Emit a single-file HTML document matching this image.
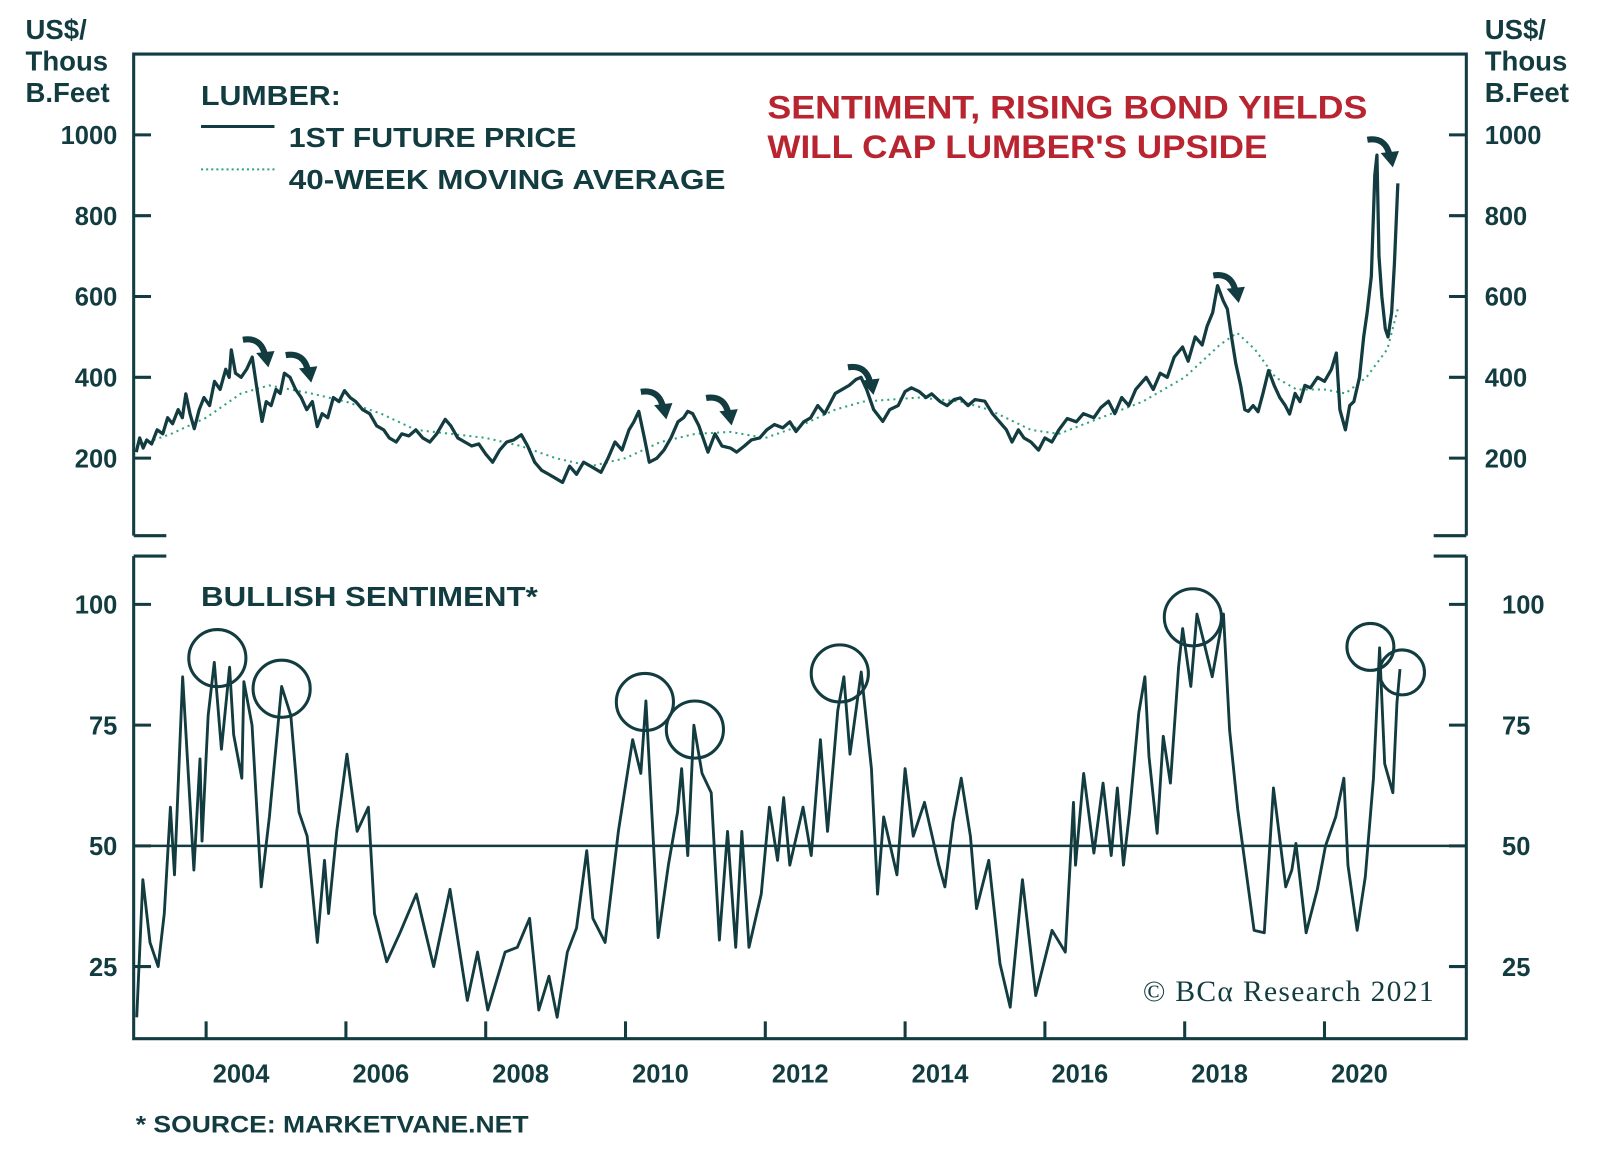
<!DOCTYPE html>
<html><head><meta charset="utf-8"><style>
html,body{margin:0;padding:0;background:#fff;}
svg{display:block;}
text{font-family:"Liberation Sans",sans-serif;font-weight:bold;fill:#123c40;}
</style></head><body>
<svg id="chart" width="1600" height="1154" viewBox="0 0 1568 1131" preserveAspectRatio="none" xmlns="http://www.w3.org/2000/svg">
<g id="frame" stroke="#123c40" stroke-width="3" fill="none">
  <path d="M131 525 V53 H1437 V525"/>
  <path d="M131 525 H163 M1405 525 H1437"/>
  <path d="M131 545 V1018 H1437 V545"/>
  <path d="M131 545 H163 M1405 545 H1437"/>
</g>
<g id="ticks"></g>
<g id="labels"></g>
<line x1="131" y1="829" x2="1437" y2="829" stroke="#123c40" stroke-width="2.5"/>
<path id="maLine" fill="none" stroke="#2fa37a" stroke-width="2" stroke-dasharray="2 4"/>
<path id="priceLine" fill="none" stroke="#123c40" stroke-width="3.2" stroke-linejoin="round"/>
<path id="sentLine" fill="none" stroke="#123c40" stroke-width="2.8" stroke-linejoin="round"/>
<g id="circles" fill="none" stroke="#123c40" stroke-width="3"></g>
<g id="arrows"></g>

<text x="25" y="38" font-size="27">US$/</text>
<text x="25" y="69" font-size="27">Thous</text>
<text x="25" y="100" font-size="27">B.Feet</text>
<text x="1455" y="38" font-size="27">US$/</text>
<text x="1455" y="69" font-size="27">Thous</text>
<text x="1455" y="100" font-size="27">B.Feet</text>

<text x="197" y="103" font-size="27" textLength="137" lengthAdjust="spacingAndGlyphs">LUMBER:</text>
<line x1="197" y1="124" x2="269" y2="124" stroke="#123c40" stroke-width="3"/>
<text x="283" y="144" font-size="27" textLength="282" lengthAdjust="spacingAndGlyphs">1ST FUTURE PRICE</text>
<line x1="197" y1="166" x2="269" y2="166" stroke="#2fa37a" stroke-width="2" stroke-dasharray="2 3"/>
<text x="283" y="185" font-size="27" textLength="428" lengthAdjust="spacingAndGlyphs">40-WEEK MOVING AVERAGE</text>

<text x="752" y="116" font-size="32" textLength="588" lengthAdjust="spacingAndGlyphs" style="fill:#b82530">SENTIMENT, RISING BOND YIELDS</text>
<text x="752" y="155" font-size="32" textLength="490" lengthAdjust="spacingAndGlyphs" style="fill:#b82530">WILL CAP LUMBER'S UPSIDE</text>

<text x="197" y="594" font-size="27" textLength="330" lengthAdjust="spacingAndGlyphs">BULLISH SENTIMENT*</text>
<text x="1120" y="981" font-size="29" textLength="285" style="font-family:'Liberation Serif',serif;font-weight:normal">© BCα Research 2021</text>
<text x="133" y="1110" font-size="24" textLength="385" lengthAdjust="spacingAndGlyphs">* SOURCE: MARKETVANE.NET</text>
</svg>
<script>
const priceDates=[2003.00,2003.05,2003.10,2003.15,2003.22,2003.3,2003.38,2003.45,2003.52,2003.6,2003.66,2003.71,2003.77,2003.83,2003.9,2003.97,2004.05,2004.12,2004.2,2004.28,2004.33,2004.36,2004.42,2004.5,2004.58,2004.66,2004.72,2004.8,2004.86,2004.93,2005.0,2005.06,2005.12,2005.2,2005.28,2005.36,2005.44,2005.52,2005.59,2005.66,2005.74,2005.82,2005.9,2005.98,2006.06,2006.14,2006.24,2006.34,2006.44,2006.54,2006.62,2006.72,2006.8,2006.9,2007.0,2007.1,2007.2,2007.3,2007.42,2007.5,2007.6,2007.7,2007.8,2007.9,2008.0,2008.1,2008.2,2008.3,2008.4,2008.51,2008.6,2008.7,2008.8,2008.9,2009.0,2009.1,2009.2,2009.3,2009.4,2009.5,2009.65,2009.75,2009.85,2009.95,2010.05,2010.12,2010.19,2010.27,2010.34,2010.45,2010.55,2010.65,2010.75,2010.83,2010.89,2010.96,2011.05,2011.18,2011.28,2011.38,2011.5,2011.59,2011.7,2011.8,2011.92,2012.02,2012.13,2012.25,2012.35,2012.44,2012.55,2012.65,2012.75,2012.85,2013.0,2013.1,2013.2,2013.3,2013.37,2013.45,2013.55,2013.68,2013.78,2013.9,2014.0,2014.09,2014.2,2014.3,2014.38,2014.5,2014.6,2014.7,2014.79,2014.9,2015.0,2015.14,2015.25,2015.35,2015.45,2015.53,2015.62,2015.7,2015.8,2015.91,2016.0,2016.1,2016.2,2016.32,2016.45,2016.55,2016.7,2016.8,2016.91,2017.0,2017.1,2017.2,2017.3,2017.45,2017.55,2017.65,2017.75,2017.85,2017.97,2018.05,2018.15,2018.25,2018.32,2018.4,2018.47,2018.55,2018.61,2018.67,2018.73,2018.8,2018.86,2018.91,2018.98,2019.05,2019.12,2019.2,2019.28,2019.36,2019.44,2019.5,2019.58,2019.65,2019.72,2019.8,2019.9,2020.0,2020.1,2020.17,2020.22,2020.3,2020.36,2020.42,2020.5,2020.56,2020.61,2020.67,2020.72,2020.75,2020.78,2020.82,2020.87,2020.91,2020.96,2021.0,2021.05];
const priceValues=[215,250,225,245,235,270,260,300,285,320,300,359,310,273,320,350,330,390,370,420,400,468,410,400,420,450,380,291,340,330,370,360,410,400,370,350,320,340,278,310,300,350,340,367,350,340,320,310,280,270,250,240,260,255,270,250,240,260,296,280,250,240,230,235,210,190,220,240,245,258,230,190,170,160,150,140,180,160,190,180,165,200,240,220,270,290,316,250,190,200,220,250,290,300,316,310,280,215,260,230,225,215,230,245,250,270,283,275,290,266,290,300,330,310,360,370,380,395,400,370,320,291,320,330,365,374,365,350,359,340,330,345,349,330,345,341,310,290,270,240,270,250,240,220,250,240,270,298,290,310,300,325,341,310,350,330,370,400,370,410,400,450,475,440,500,480,526,560,627,590,569,500,435,380,320,316,330,315,360,417,380,350,330,309,360,340,380,374,400,390,420,460,320,270,330,340,400,500,560,650,900,950,700,600,520,500,560,680,880];
const maDates=[2003.0,2003.5,2004.0,2004.5,2004.9,2005.5,2006.0,2006.5,2007.0,2007.5,2008.0,2008.5,2009.0,2009.5,2010.0,2010.5,2011.0,2011.5,2012.0,2012.5,2013.0,2013.4,2013.8,2014.2,2014.8,2015.2,2015.8,2016.2,2016.8,2017.4,2018.0,2018.5,2018.75,2019.0,2019.3,2019.6,2020.0,2020.3,2020.6,2020.9,2021.05];
const maValues=[230,260,300,360,380,360,340,310,270,260,250,230,200,180,200,240,260,265,250,280,320,340,345,350,340,320,270,260,300,340,400,480,510,470,400,370,370,360,400,470,570];
const sentX=[134,140,147,155,161,167,171,179,190,196,198,204,210,217,225,229,237,239,247,256,264,276,285,293,301,311,318,322,330,340,350,361,367,379,392,408,425,441,458,468,478,495,507,519,528,538,546,556,565,575,581,593,606,620,628,633,643,645,655,664,668,674,680,688,697,705,713,721,727,734,746,754,762,768,774,787,795,804,811,821,827,833,844,854,860,866,879,887,895,906,920,926,934,942,951,957,969,980,990,1002,1015,1031,1044,1052,1054,1062,1072,1081,1089,1095,1101,1107,1116,1122,1126,1134,1140,1147,1155,1159,1167,1173,1180,1188,1199,1205,1213,1221,1229,1239,1248,1260,1266,1270,1280,1291,1299,1309,1317,1321,1330,1338,1346,1352,1357,1365,1369,1372];
const sentValues=[14.5,43,30,25,36,58,44,85,45,68,51,77,88,70,87,73,64,84,75,41.5,56,83,77,57,52,30,47,36,53,69,53,58,36,26,32,40,25,41,18,28,16,28,29,35,16,23,14.5,28,33,49,35,30,53,72,65,80,40,31,46,57,66,48,75,65,61,30.5,53,29,53,29,40,58,47,60,46,58,48,72,53,78,85,69,86,66,40,56,44,66,52,59,46,41.5,55,64,52,37,47,25.6,16.6,43,19,32.5,28,59,46,65,48.5,63,48,62,46,57,77.5,85,68.5,52.6,72.7,63,87,95,83,98,92,85,98,74,57.5,45,32.5,32,62,41.5,45,50.5,32,41,50,56,64,46,32.5,43.6,64,91,67,61,79.6,86.6,72];
const priceTicks=[200,400,600,800,1000];
const sentTicks=[25,50,75,100];
const yearLabels=[2004,2006,2008,2010,2012,2014,2016,2018,2020];

const xYear=y=>202+(y-2004)*68.5;
const yPrice=v=>449-(v-200)*0.396;
const ySent=v=>829-(v-50)*4.733;
const sentYear=px=>2004+(px-202)/68.5;
const NS="http://www.w3.org/2000/svg";
function mk(tag,parent,attrs){const e=document.createElementNS(NS,tag);for(const k in attrs)e.setAttribute(k,attrs[k]);parent.appendChild(e);return e;}

document.getElementById('priceLine').setAttribute('d',priceDates.map((d,i)=>(i?'L':'M')+xYear(d).toFixed(1)+' '+yPrice(priceValues[i]).toFixed(1)).join(''));
document.getElementById('maLine').setAttribute('d',maDates.map((d,i)=>(i?'L':'M')+xYear(d).toFixed(1)+' '+yPrice(maValues[i]).toFixed(1)).join(''));
document.getElementById('sentLine').setAttribute('d',sentX.map((px,i)=>(i?'L':'M')+xYear(sentYear(px)).toFixed(1)+' '+ySent(sentValues[i]).toFixed(1)).join(''));

const ticks=document.getElementById('ticks'), labels=document.getElementById('labels');
priceTicks.forEach(v=>{
  const y=yPrice(v);
  const t=mk('path',ticks,{d:`M131 ${y}H148M1420 ${y}H1437`,stroke:'#123c40','stroke-width':3});
  
  
  const a=mk('text',labels,{x:115,y:y+9,'text-anchor':'end','font-size':25});a.textContent=v;
  
  
  const b=mk('text',labels,{x:1455,y:y+9,'font-size':25});b.textContent=v;
  
  
});
sentTicks.forEach(v=>{
  const y=ySent(v);
  const t=mk('path',ticks,{d:`M131 ${y}H148M1420 ${y}H1437`,stroke:'#123c40','stroke-width':3});
  
  
  const a=mk('text',labels,{x:115,y:y+9,'text-anchor':'end','font-size':25});a.textContent=v;
  
  
  const b=mk('text',labels,{x:1472,y:y+9,'font-size':25});b.textContent=v;
  
  
});
for(let yr=2004;yr<=2020;yr+=2){
  const x=xYear(yr);
  const t=mk('path',ticks,{d:`M${x} 1018V1001`,stroke:'#123c40','stroke-width':3});
  
  
}
yearLabels.forEach(yr=>{
  const a=mk('text',labels,{x:xYear(yr+0.5),y:1061,'text-anchor':'middle','font-size':25});a.textContent=yr;
  
  
});

const circ=document.getElementById('circles');
[[213,645,28],[276,675,28],[632,688,28],[681,715,28],[823,660,28],[1169,605,28],[1343,634,23],[1374,659,22]].forEach(c=>{
  const e=mk('circle',circ,{cx:c[0],cy:c[1],r:c[2]});
  
  
});
const arr=document.getElementById('arrows');
[[238,333],[280,348],[628,384],[692,390],[831,360],[1189,270],[1340,137]].forEach(p=>{
  const [x,y]=p;
  const e=mk('path',arr,{d:`M${x} ${y}Q${x+18} ${y-3} ${x+22} ${y+16}`,fill:'none',stroke:'#123c40','stroke-width':6});
  
  
  const h=mk('path',arr,{d:`M${x+13} ${y+13}L${x+31} ${y+11}L${x+25} ${y+27}Z`,fill:'#123c40'});
  
  
});
</script>
</body></html>
